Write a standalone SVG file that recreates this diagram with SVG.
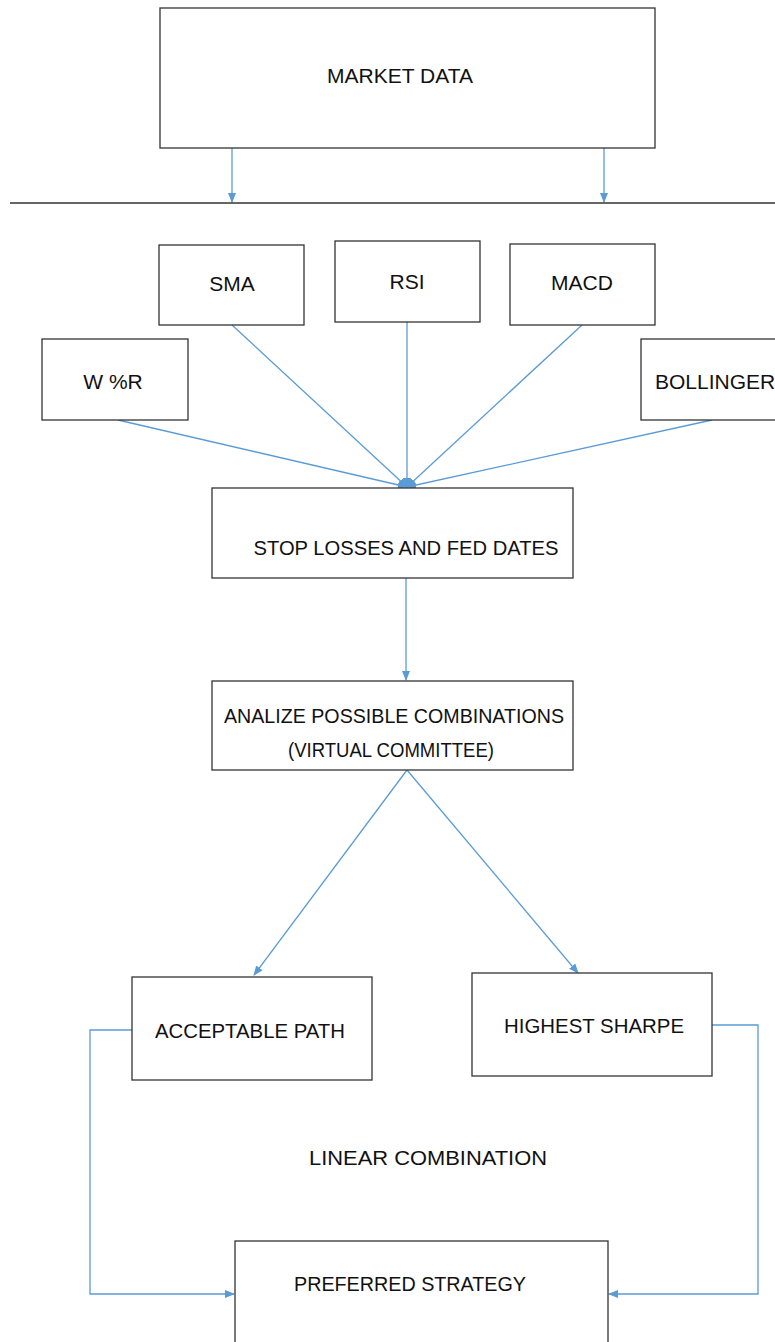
<svg xmlns="http://www.w3.org/2000/svg" width="775" height="1342" viewBox="0 0 775 1342">
<style>
.box{fill:#fff;stroke:#333;stroke-width:1.3}
.t{font-family:"Liberation Sans",Arial,sans-serif;font-size:21px;fill:#111;text-anchor:middle}
.c{fill:none;stroke:#5b9bd5;stroke-width:1.3}
</style>
<defs>
<marker id="ah" markerWidth="10" markerHeight="10" refX="9" refY="5" orient="auto" markerUnits="userSpaceOnUse">
<path d="M0,1 L10,5 L0,9 Z" fill="#5b9bd5"/>
</marker>
</defs>
<rect width="775" height="1342" fill="#fff"/>
<g id="connectors">
<line class="c" x1="232" y1="148" x2="232" y2="202" marker-end="url(#ah)"/>
<line class="c" x1="604" y1="148" x2="604" y2="202" marker-end="url(#ah)"/>
<line x1="10" y1="203" x2="775" y2="203" stroke="#333" stroke-width="1.3"/>
<line class="c" x1="118" y1="420" x2="407" y2="487" marker-end="url(#ah)"/>
<line class="c" x1="232" y1="325" x2="407" y2="487" marker-end="url(#ah)"/>
<line class="c" x1="407" y1="322" x2="407" y2="487" marker-end="url(#ah)"/>
<line class="c" x1="582" y1="325" x2="407" y2="487" marker-end="url(#ah)"/>
<line class="c" x1="712" y1="420" x2="407" y2="487" marker-end="url(#ah)"/>
<line class="c" x1="406" y1="578" x2="406" y2="680" marker-end="url(#ah)"/>
<line class="c" x1="407" y1="770" x2="254" y2="975" marker-end="url(#ah)"/>
<line class="c" x1="407" y1="770" x2="578" y2="973" marker-end="url(#ah)"/>
<polyline class="c" points="132,1030 90,1030 90,1294 234,1294" marker-end="url(#ah)"/>
<polyline class="c" points="712,1025 758,1025 758,1294 609,1294" marker-end="url(#ah)"/>
</g>
<g id="market-data"><rect class="box" x="160" y="8" width="495" height="140"/><text class="t" x="400" y="83">MARKET DATA</text></g>
<g id="sma"><rect class="box" x="159" y="245" width="145" height="80"/><text class="t" x="232" y="291">SMA</text></g>
<g id="rsi"><rect class="box" x="335" y="241" width="145" height="81"/><text class="t" x="407" y="289">RSI</text></g>
<g id="macd"><rect class="box" x="510" y="244" width="145" height="81"/><text class="t" x="582" y="290">MACD</text></g>
<g id="wr"><rect class="box" x="42" y="339" width="146" height="81"/><text class="t" x="113" y="389">W %R</text></g>
<g id="bollinger"><rect class="box" x="641" y="339" width="140" height="81"/><text class="t" x="655" y="389" style="text-anchor:start">BOLLINGER</text></g>
<g id="stop-losses"><rect class="box" x="212" y="488" width="361" height="90"/><text class="t" x="406" y="555" textLength="305" lengthAdjust="spacingAndGlyphs">STOP LOSSES AND FED DATES</text></g>
<g id="analize"><rect class="box" x="212" y="681" width="361" height="89"/><text class="t" x="394" y="723" textLength="340" lengthAdjust="spacingAndGlyphs">ANALIZE POSSIBLE COMBINATIONS</text><text class="t" x="391" y="757" textLength="206" lengthAdjust="spacingAndGlyphs">(VIRTUAL COMMITTEE)</text></g>
<g id="acceptable-path"><rect class="box" x="132" y="977" width="240" height="103"/><text class="t" x="250" y="1038" textLength="190" lengthAdjust="spacingAndGlyphs">ACCEPTABLE PATH</text></g>
<g id="highest-sharpe"><rect class="box" x="472" y="973" width="240" height="103"/><text class="t" x="594" y="1033" textLength="180" lengthAdjust="spacingAndGlyphs">HIGHEST SHARPE</text></g>
<g id="linear-combination"><text class="t" x="428" y="1165" textLength="238" lengthAdjust="spacingAndGlyphs">LINEAR COMBINATION</text></g>
<g id="preferred-strategy"><rect class="box" x="235" y="1241" width="373" height="110"/><text class="t" x="410" y="1291" textLength="232" lengthAdjust="spacingAndGlyphs">PREFERRED STRATEGY</text></g>
</svg>
